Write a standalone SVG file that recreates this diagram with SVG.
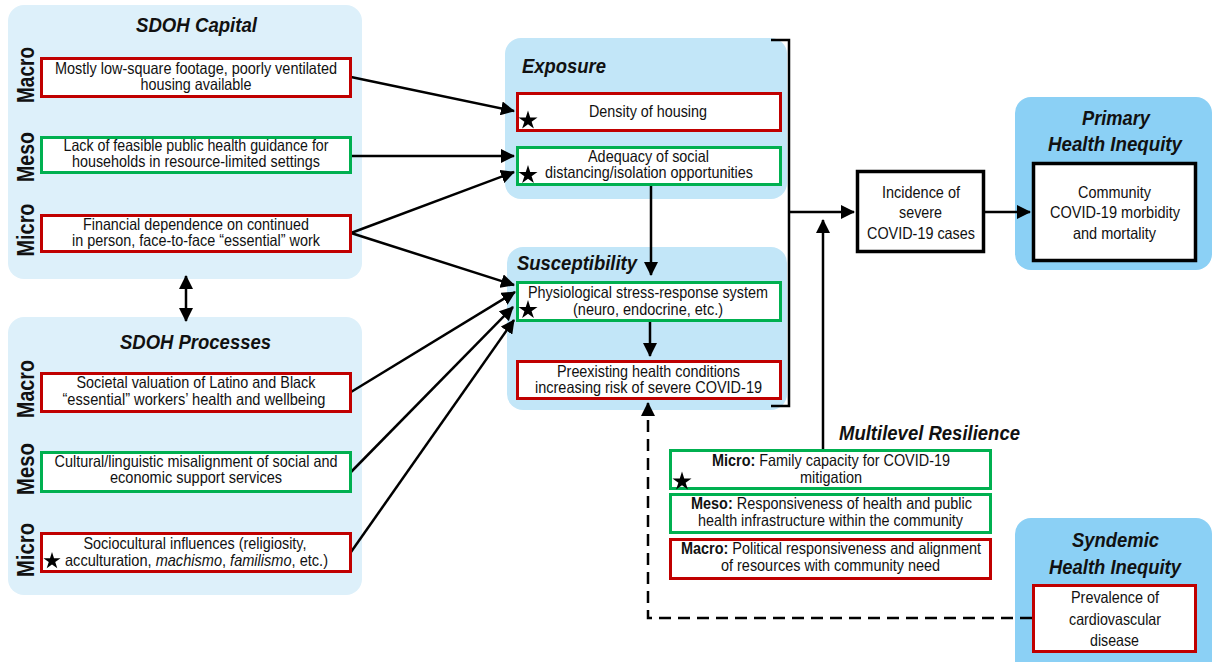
<svg xmlns="http://www.w3.org/2000/svg" width="1212" height="662" viewBox="0 0 1212 662">
<style>
text{font-family:"Liberation Sans",Arial,sans-serif;fill:#111}
.t{font-size:16.5px;text-anchor:middle}
.ttl{font-size:20.5px;font-weight:bold;font-style:italic}
.lvl{font-size:23px;font-weight:bold;text-anchor:middle}
.pl{fill:#ddf0fa}
.pm{fill:#c2e6f8}
.pd{fill:#8bd0f5}
.red{fill:#fff;stroke:#c00000;stroke-width:3}
.grn{fill:#fff;stroke:#00b050;stroke-width:3}
.blk{fill:#fff;stroke:#000;stroke-width:3.5}
.ln{fill:none;stroke:#000;stroke-width:2.5}
.b{font-weight:bold}
.i{font-style:italic}
</style>
<defs>
<marker id="ah" viewBox="0 0 14 14" refX="13" refY="7" markerWidth="14" markerHeight="14" markerUnits="userSpaceOnUse" orient="auto-start-reverse">
<path d="M0,0 L14,7 L0,14 z" fill="#000"/>
</marker>
<path id="star" d="M0,-10 L2.23,-3.07 L9.51,-3.09 L3.61,1.17 L5.88,8.09 L0,3.8 L-5.88,8.09 L-3.61,1.17 L-9.51,-3.09 L-2.23,-3.07 Z" fill="#000"/>
</defs>

<!-- panels -->
<g id="panel-capital">
<rect class="pl" x="8" y="5" width="354" height="274" rx="16"/>
<text class="ttl" x="196.5" y="32" text-anchor="middle" textLength="121" lengthAdjust="spacingAndGlyphs">SDOH Capital</text>
<text class="lvl" transform="translate(34,75) rotate(-90)" textLength="56" lengthAdjust="spacingAndGlyphs">Macro</text>
<text class="lvl" transform="translate(34,157) rotate(-90)" textLength="50" lengthAdjust="spacingAndGlyphs">Meso</text>
<text class="lvl" transform="translate(34,230) rotate(-90)" textLength="53" lengthAdjust="spacingAndGlyphs">Micro</text>
</g>
<g id="panel-processes">
<rect class="pl" x="8" y="317" width="354" height="278" rx="16"/>
<text class="ttl" x="195.5" y="349" text-anchor="middle" textLength="151" lengthAdjust="spacingAndGlyphs">SDOH Processes</text>
<text class="lvl" transform="translate(34,389) rotate(-90)" textLength="58" lengthAdjust="spacingAndGlyphs">Macro</text>
<text class="lvl" transform="translate(34,469) rotate(-90)" textLength="52" lengthAdjust="spacingAndGlyphs">Meso</text>
<text class="lvl" transform="translate(34,550) rotate(-90)" textLength="54" lengthAdjust="spacingAndGlyphs">Micro</text>
</g>
<g id="panel-exposure">
<rect class="pm" x="505" y="38" width="282" height="161" rx="16"/>
<text class="ttl" x="522" y="73" textLength="84" lengthAdjust="spacingAndGlyphs">Exposure</text>
</g>
<g id="panel-susceptibility">
<rect class="pm" x="507" y="247" width="280" height="163" rx="16"/>
<text class="ttl" x="517" y="270" textLength="120" lengthAdjust="spacingAndGlyphs">Susceptibility</text>
</g>
<g id="panel-primary">
<rect class="pd" x="1015" y="97" width="197" height="173" rx="16"/>
<text class="ttl" x="1116" y="125" text-anchor="middle" textLength="68" lengthAdjust="spacingAndGlyphs">Primary</text>
<text class="ttl" x="1115" y="151" text-anchor="middle" textLength="134" lengthAdjust="spacingAndGlyphs">Health Inequity</text>
</g>
<g id="panel-syndemic">
<rect class="pd" x="1015" y="518" width="197" height="160" rx="16"/>
<text class="ttl" x="1115.5" y="547" text-anchor="middle" textLength="87" lengthAdjust="spacingAndGlyphs">Syndemic</text>
<text class="ttl" x="1115" y="574" text-anchor="middle" textLength="132" lengthAdjust="spacingAndGlyphs">Health Inequity</text>
</g>
<g id="title-resilience">
<text class="ttl" x="839" y="440" textLength="181" lengthAdjust="spacingAndGlyphs">Multilevel Resilience</text>
</g>

<!-- connectors -->
<g id="connectors">
<line class="ln" x1="351" y1="77" x2="514" y2="111" marker-end="url(#ah)"/>
<line class="ln" x1="351" y1="156" x2="514" y2="156" marker-end="url(#ah)"/>
<line class="ln" x1="351" y1="233" x2="514" y2="172" marker-end="url(#ah)"/>
<line class="ln" x1="351" y1="233" x2="514" y2="285" marker-end="url(#ah)"/>
<line class="ln" x1="351" y1="392" x2="515" y2="292" marker-end="url(#ah)"/>
<line class="ln" x1="351" y1="472" x2="513" y2="307" marker-end="url(#ah)"/>
<line class="ln" x1="351" y1="552" x2="514" y2="320" marker-end="url(#ah)"/>
<line class="ln" x1="651" y1="186" x2="651" y2="275" marker-end="url(#ah)"/>
<line class="ln" x1="650" y1="322" x2="650" y2="356" marker-end="url(#ah)"/>
<path class="ln" d="M771,40 H789 V406 H771"/>
<line class="ln" x1="789" y1="212" x2="854" y2="212" marker-end="url(#ah)"/>
<line class="ln" x1="985" y1="212" x2="1030" y2="212" marker-end="url(#ah)"/>
<line class="ln" x1="823" y1="449" x2="823" y2="220" marker-end="url(#ah)"/>
<path class="ln" d="M1032,618 H648 V403" stroke-dasharray="12 7" marker-end="url(#ah)"/>
<line class="ln" x1="186" y1="276" x2="186" y2="321" marker-start="url(#ah)" marker-end="url(#ah)"/>
</g>

<!-- nodes -->
<g id="cap-macro">
<rect class="red" x="41.5" y="58.5" width="309" height="38"/>
<text class="t" x="196" y="74" textLength="282" lengthAdjust="spacingAndGlyphs">Mostly low-square footage, poorly ventilated</text>
<text class="t" x="196" y="90" textLength="111" lengthAdjust="spacingAndGlyphs">housing available</text>
</g>
<g id="cap-meso">
<rect class="grn" x="41.5" y="137.5" width="309" height="35"/>
<text class="t" x="196" y="151" textLength="265" lengthAdjust="spacingAndGlyphs">Lack of feasible public health guidance for</text>
<text class="t" x="196" y="167" textLength="248" lengthAdjust="spacingAndGlyphs">households in resource-limited settings</text>
</g>
<g id="cap-micro">
<rect class="red" x="41.5" y="215.5" width="309" height="36"/>
<text class="t" x="196" y="230" textLength="226" lengthAdjust="spacingAndGlyphs">Financial dependence on continued</text>
<text class="t" x="196" y="246" textLength="248" lengthAdjust="spacingAndGlyphs">in person, face-to-face “essential” work</text>
</g>
<g id="proc-macro">
<rect class="red" x="41.5" y="373.5" width="309" height="38"/>
<text class="t" x="196" y="388" textLength="239" lengthAdjust="spacingAndGlyphs">Societal valuation of Latino and Black</text>
<text class="t" x="194" y="405" textLength="263" lengthAdjust="spacingAndGlyphs">“essential” workers’ health and wellbeing</text>
</g>
<g id="proc-meso">
<rect class="grn" x="41.5" y="452.5" width="309" height="39"/>
<text class="t" x="196" y="467" textLength="283" lengthAdjust="spacingAndGlyphs">Cultural/linguistic misalignment of social and</text>
<text class="t" x="196" y="483" textLength="172" lengthAdjust="spacingAndGlyphs">economic support services</text>
</g>
<g id="proc-micro">
<rect class="red" x="41.5" y="533.5" width="309" height="38"/>
<text class="t" x="195" y="549" textLength="223" lengthAdjust="spacingAndGlyphs">Sociocultural influences (religiosity,</text>
<text class="t" x="196.5" y="566" textLength="263" lengthAdjust="spacingAndGlyphs">acculturation, <tspan class="i">machismo</tspan>, <tspan class="i">familismo</tspan>, etc.)</text>
<use href="#star" transform="translate(52,561) scale(0.9)"/>
</g>
<g id="exp-density">
<rect class="red" x="517.5" y="93.5" width="263" height="37"/>
<text class="t" x="648" y="117" textLength="118" lengthAdjust="spacingAndGlyphs">Density of housing</text>
<use href="#star" transform="translate(528,120.5)"/>
</g>
<g id="exp-adequacy">
<rect class="grn" x="517.5" y="147.5" width="263" height="37"/>
<text class="t" x="648.5" y="162" textLength="121" lengthAdjust="spacingAndGlyphs">Adequacy of social</text>
<text class="t" x="649" y="178" textLength="208" lengthAdjust="spacingAndGlyphs">distancing/isolation opportunities</text>
<use href="#star" transform="translate(528,175)"/>
</g>
<g id="sus-physio">
<rect class="grn" x="517.5" y="282.5" width="263" height="38"/>
<text class="t" x="648" y="298" textLength="240" lengthAdjust="spacingAndGlyphs">Physiological stress-response system</text>
<text class="t" x="648" y="315" textLength="150" lengthAdjust="spacingAndGlyphs">(neuro, endocrine, etc.)</text>
<use href="#star" transform="translate(528,310)"/>
</g>
<g id="sus-preexisting">
<rect class="red" x="517.5" y="361.5" width="263" height="37"/>
<text class="t" x="648.5" y="377" textLength="183" lengthAdjust="spacingAndGlyphs">Preexisting health conditions</text>
<text class="t" x="648.5" y="393" textLength="227" lengthAdjust="spacingAndGlyphs">increasing risk of severe COVID-19</text>
</g>
<g id="incidence">
<rect class="blk" x="857.5" y="171.5" width="126" height="80"/>
<text class="t" x="921" y="198" textLength="78" lengthAdjust="spacingAndGlyphs">Incidence of</text>
<text class="t" x="920.5" y="218" textLength="43" lengthAdjust="spacingAndGlyphs">severe</text>
<text class="t" x="921" y="239" textLength="108" lengthAdjust="spacingAndGlyphs">COVID-19 cases</text>
</g>
<g id="community">
<rect class="blk" x="1033.5" y="163.5" width="162" height="97"/>
<text class="t" x="1114.5" y="198" textLength="73" lengthAdjust="spacingAndGlyphs">Community</text>
<text class="t" x="1115" y="218" textLength="130" lengthAdjust="spacingAndGlyphs">COVID-19 morbidity</text>
<text class="t" x="1114.5" y="239" textLength="83" lengthAdjust="spacingAndGlyphs">and mortality</text>
</g>
<g id="res-micro">
<rect class="grn" x="670.5" y="450.5" width="320" height="38"/>
<text class="t" x="831" y="466" textLength="238" lengthAdjust="spacingAndGlyphs"><tspan class="b">Micro:</tspan> Family capacity for COVID-19</text>
<text class="t" x="831" y="483" textLength="62" lengthAdjust="spacingAndGlyphs">mitigation</text>
<use href="#star" transform="translate(682,481.5)"/>
</g>
<g id="res-meso">
<rect class="grn" x="670.5" y="494.5" width="320" height="38"/>
<text class="t" x="831.5" y="509" textLength="281" lengthAdjust="spacingAndGlyphs"><tspan class="b">Meso:</tspan> Responsiveness of health and public</text>
<text class="t" x="830.5" y="526" textLength="265" lengthAdjust="spacingAndGlyphs">health infrastructure within the community</text>
</g>
<g id="res-macro">
<rect class="red" x="670.5" y="539.5" width="320" height="39"/>
<text class="t" x="831" y="554" textLength="300" lengthAdjust="spacingAndGlyphs"><tspan class="b">Macro:</tspan> Political responsiveness and alignment</text>
<text class="t" x="830.5" y="571" textLength="219" lengthAdjust="spacingAndGlyphs">of resources with community need</text>
</g>
<g id="prevalence">
<rect class="red" x="1033.5" y="585.5" width="162" height="66"/>
<text class="t" x="1115" y="603" textLength="88" lengthAdjust="spacingAndGlyphs">Prevalence of</text>
<text class="t" x="1115" y="625" textLength="92" lengthAdjust="spacingAndGlyphs">cardiovascular</text>
<text class="t" x="1114.5" y="646" textLength="49" lengthAdjust="spacingAndGlyphs">disease</text>
</g>
</svg>
